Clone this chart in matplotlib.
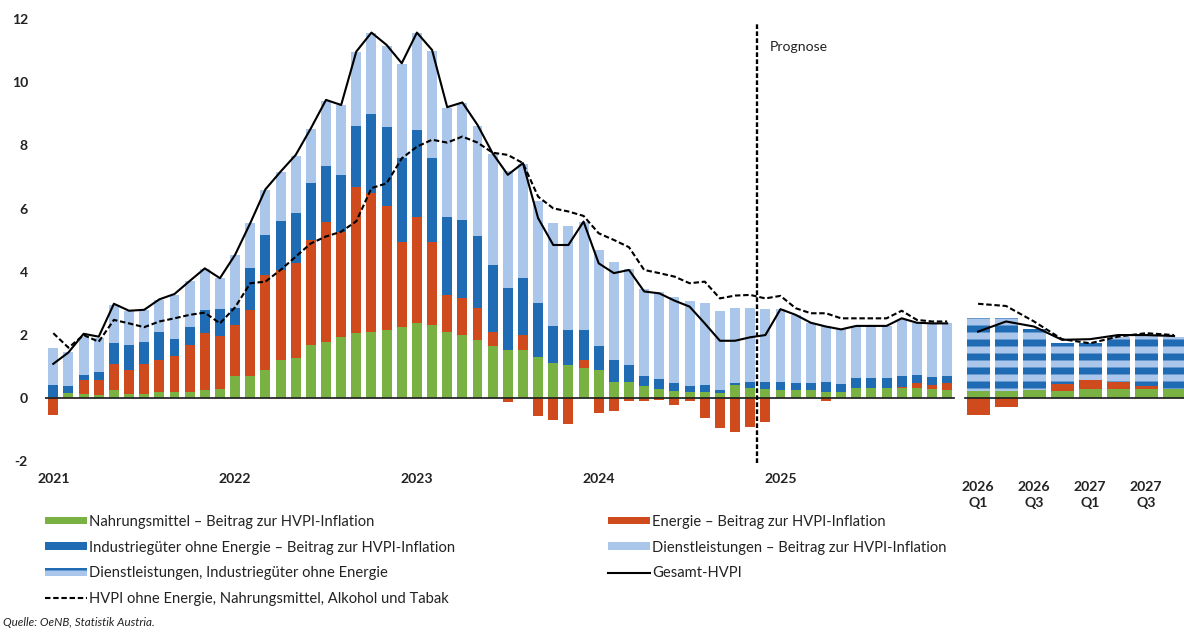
import numpy as np
import matplotlib
matplotlib.use("Agg")
import matplotlib.pyplot as plt
from matplotlib.patches import Patch
from matplotlib.lines import Line2D

# ---------------- data ----------------
year_labels = ['2021', '2022', '2023', '2024', '2025']
quarter_labels = ['2026\nQ1', '2026\nQ3', '2027\nQ1', '2027\nQ3']

# monthly contributions Jan 2021 .. Dec 2025 (percentage points)
food_m = [0.05, 0.16, 0.15, 0.10, 0.26, 0.15, 0.15, 0.20, 0.20, 0.20, 0.25, 0.30,
          0.69, 0.69, 0.90, 1.21, 1.27, 1.69, 1.79, 1.95, 2.06, 2.11, 2.16, 2.27,
          2.37, 2.32, 2.11, 2.00, 1.85, 1.64, 1.53, 1.53, 1.32, 1.11, 1.05, 0.95,
          0.90, 0.53, 0.53, 0.40, 0.30, 0.24, 0.21, 0.21, 0.17, 0.42, 0.32, 0.28,
          0.26, 0.26, 0.26, 0.21, 0.21, 0.32, 0.32, 0.32, 0.32, 0.32, 0.28, 0.26]
energy_m = [-0.53, 0.00, 0.43, 0.48, 0.83, 0.75, 0.94, 1.01, 1.14, 1.49, 1.81, 1.68,
            1.63, 2.11, 3.00, 2.86, 3.00, 3.32, 3.80, 3.32, 4.64, 4.38, 3.91, 2.69,
            3.38, 2.64, 1.16, 1.16, 1.00, 0.47, -0.12, 0.47, -0.56, -0.69, -0.81, 0.26,
            -0.45, -0.40, -0.10, -0.10, -0.05, -0.21, -0.10, -0.63, -0.95, -1.08, -0.90, -0.74,
            0.00, 0.00, 0.00, -0.10, 0.00, 0.00, 0.00, 0.00, 0.05, 0.16, 0.14, 0.21]
ind_m = [0.37, 0.23, 0.16, 0.26, 0.65, 0.79, 0.70, 0.90, 0.53, 0.58, 0.74, 0.84,
         0.55, 1.31, 1.27, 1.55, 1.58, 1.79, 1.76, 1.80, 1.90, 2.51, 2.51, 2.63,
         2.74, 2.63, 2.48, 2.48, 2.27, 2.11, 1.95, 1.80, 1.68, 1.18, 1.11, 0.95,
         0.74, 0.68, 0.52, 0.32, 0.30, 0.23, 0.18, 0.21, 0.10, 0.05, 0.18, 0.25,
         0.27, 0.21, 0.21, 0.29, 0.24, 0.31, 0.31, 0.31, 0.33, 0.26, 0.24, 0.22]
serv_m = [1.16, 1.06, 1.20, 1.06, 1.20, 1.06, 1.00, 1.00, 1.40, 1.43, 1.28, 1.00,
          1.65, 1.42, 1.43, 1.53, 1.83, 1.72, 2.07, 2.20, 2.35, 2.55, 2.58, 3.00,
          3.06, 3.41, 3.45, 3.70, 3.50, 3.50, 3.70, 3.62, 3.25, 3.25, 3.30, 3.43,
          3.05, 3.10, 3.05, 2.75, 2.75, 2.75, 2.70, 2.58, 2.50, 2.40, 2.35, 2.30,
          2.30, 2.15, 1.90, 1.80, 1.75, 1.65, 1.65, 1.65, 1.80, 1.65, 1.70, 1.70]
hicp_m = [1.09, 1.45, 2.04, 1.95, 2.99, 2.77, 2.80, 3.13, 3.30, 3.71, 4.11, 3.80,
          4.54, 5.54, 6.61, 7.17, 7.70, 8.54, 9.44, 9.28, 10.97, 11.57, 11.18, 10.60,
          11.57, 11.02, 9.21, 9.36, 8.65, 7.75, 7.07, 7.44, 5.70, 4.85, 4.85, 5.59,
          4.27, 3.96, 4.06, 3.38, 3.32, 3.09, 2.90, 2.37, 1.82, 1.82, 1.93, 2.00,
          2.82, 2.64, 2.39, 2.27, 2.18, 2.29, 2.29, 2.29, 2.53, 2.39, 2.37, 2.37]
core_m = [2.06, 1.60, 2.00, 1.79, 2.48, 2.37, 2.25, 2.43, 2.53, 2.64, 2.71, 2.37,
          2.88, 3.64, 3.69, 4.06, 4.48, 4.90, 5.12, 5.27, 5.60, 6.65, 6.80, 7.59,
          7.96, 8.18, 8.09, 8.28, 8.09, 7.77, 7.70, 7.44, 6.38, 6.01, 5.91, 5.77,
          5.22, 5.01, 4.78, 4.06, 3.96, 3.85, 3.64, 3.69, 3.16, 3.25, 3.27, 3.16,
          3.24, 2.85, 2.69, 2.69, 2.53, 2.53, 2.53, 2.53, 2.77, 2.48, 2.43, 2.43]

# quarterly forecast 2026 Q1 .. 2027 Q4
food_q = [0.24, 0.24, 0.26, 0.24, 0.28, 0.28, 0.28, 0.28]
energy_q = [-0.53, -0.26, 0.00, 0.21, 0.30, 0.24, 0.10, 0.00]
servind_q = [2.29, 2.29, 1.92, 1.29, 1.17, 1.43, 1.58, 1.67]
hicp_q = [2.11, 2.43, 2.27, 1.85, 1.87, 2.00, 2.00, 1.97]
core_q = [2.99, 2.92, 2.43, 1.87, 1.74, 1.95, 2.06, 2.00]

# ---------------- style ----------------
C_FOOD = '#79b143'
C_EN = '#cf4b1d'
C_IND = '#1f6cb4'
C_SERV = '#aac6eb'

DPI = 84
W, H = 1184, 632
plt.rcParams['font.family'] = ['Lato', 'DejaVu Sans']
plt.rcParams['hatch.linewidth'] = 6.0
plt.rcParams['hatch.color'] = C_IND

fig = plt.figure(figsize=(W / DPI, H / DPI), dpi=DPI)
fig.patch.set_facecolor('white')

PX = 15.15          # pixels per month
X0 = 53.3           # pixel of first bar
left_px, right_px, top_px, bot_px = 45, 1184, 19, 461.5
ax = fig.add_axes([left_px / W, 1 - bot_px / H, (right_px - left_px) / W, (bot_px - top_px) / H])
ax.set_xlim((left_px - X0) / PX, (right_px - X0) / PX)
ax.set_ylim(-2, 12)

def stack(food, energy, ind, serv, x, width, hatch_top=False):
    food = np.asarray(food, float)
    energy = np.asarray(energy, float)
    ind = np.asarray(ind, float) if ind is not None else None
    serv = np.asarray(serv, float)
    pos_e = np.clip(energy, 0, None)
    neg_e = np.clip(energy, None, 0)
    ax.bar(x, food, width, color=C_FOOD, linewidth=0, zorder=2)
    ax.bar(x, pos_e, width, bottom=food, color=C_EN, linewidth=0, zorder=2)
    ax.bar(x, neg_e, width, color=C_EN, linewidth=0, zorder=2)
    base = food + pos_e
    if ind is not None:
        ax.bar(x, ind, width, bottom=base, color=C_IND, linewidth=0, zorder=2)
        base = base + ind
    if hatch_top:
        ax.bar(x, serv, width, bottom=base, facecolor=C_SERV, edgecolor=C_IND,
               hatch='-', linewidth=0, zorder=2)
    else:
        ax.bar(x, serv, width, bottom=base, color=C_SERV, linewidth=0, zorder=2)

xm = np.arange(len(food_m))
xq = 61.04 + 1.848 * np.arange(len(food_q))

stack(food_m, energy_m, ind_m, serv_m, xm, 0.66)
stack(food_q, energy_q, None, servind_q, xq, 1.52, hatch_top=True)

# zero lines
ax.plot([(left_px - X0) / PX, 59.45], [0, 0], color='#222222', lw=1.5, zorder=3)
ax.plot([60.2, (right_px - X0) / PX], [0, 0], color='#222222', lw=1.5, zorder=3)

# lines
ax.plot(xm, hicp_m, color='black', lw=1.8, zorder=4)
ax.plot(xm, core_m, color='black', lw=1.8, ls=(0, (2.6, 1.3)), zorder=4)
ax.plot(xq, hicp_q, color='black', lw=1.8, zorder=4)
ax.plot(xq, core_q, color='black', lw=1.8, ls=(0, (2.6, 1.3)), zorder=4)

# forecast marker
ax.plot([46.45, 46.45], [-2.05, 11.85], color='black', lw=2.0, ls=(0, (2.0, 1.0)),
        zorder=5, clip_on=False)
ax.text(47.3, 11.12, 'Prognose', fontsize=12, va='center', ha='left', color='#222222')

# axes styling
for s in ax.spines.values():
    s.set_visible(False)
ax.set_yticks(np.arange(-2, 13, 2))
ax.set_yticklabels([str(v) for v in range(-2, 13, 2)])
ax.tick_params(axis='y', length=0, pad=14.6, labelsize=12, labelcolor='#222222')
for t in ax.get_yticklabels():
    t.set_fontweight('bold')

ax.set_xticks([0, 12, 24, 36, 48])
ax.set_xticklabels(year_labels)
ax.set_xticks(xq[[0, 2, 4, 6]], minor=True)
ax.set_xticklabels(quarter_labels, minor=True)
ax.tick_params(axis='x', which='major', length=0, pad=9.5, labelsize=12, labelcolor='#222222')
ax.tick_params(axis='x', which='minor', length=0, pad=16.5, labelsize=12, labelcolor='#222222')
for t in ax.get_xticklabels() + ax.get_xticklabels(minor=True):
    t.set_fontweight('bold')
for t in ax.get_xticklabels(minor=True):
    t.set_linespacing(1.45)

# legends
FS = 12.7
fs_px = FS * DPI / 72
h_food = Patch(facecolor=C_FOOD, linewidth=0)
h_en = Patch(facecolor=C_EN, linewidth=0)
h_ind = Patch(facecolor=C_IND, linewidth=0)
h_serv = Patch(facecolor=C_SERV, linewidth=0)
h_si = Patch(facecolor=C_SERV, edgecolor=C_IND, hatch='-', linewidth=0)
h_hicp = Line2D([], [], color='black', lw=1.8)
h_core = Line2D([], [], color='black', lw=1.8, ls=(0, (2.6, 1.3)))

common = dict(frameon=False, fontsize=FS, handlelength=42 / fs_px, handleheight=6 / fs_px,
              handletextpad=2 / fs_px, labelspacing=0.78, borderpad=0, borderaxespad=0,
              loc='upper left')
leg1 = fig.legend([h_food, h_ind, h_si, h_core],
                  ['Nahrungsmittel – Beitrag zur HVPI-Inflation',
                   'Industriegüter ohne Energie – Beitrag zur HVPI-Inflation',
                   'Dienstleistungen, Industriegüter ohne Energie',
                   'HVPI ohne Energie, Nahrungsmittel, Alkohol und Tabak'],
                  bbox_to_anchor=(45 / W, 1 - 515 / H), **common)
leg2 = fig.legend([h_en, h_serv, h_hicp],
                  ['Energie – Beitrag zur HVPI-Inflation',
                   'Dienstleistungen – Beitrag zur HVPI-Inflation',
                   'Gesamt-HVPI'],
                  bbox_to_anchor=(608 / W, 1 - 515 / H), **common)
for leg in (leg1, leg2):
    for t in leg.get_texts():
        t.set_color('#222222')

fig.text(3 / W, 1 - 622 / H, 'Quelle: OeNB, Statistik Austria.', fontsize=10,
         style='italic', va='center', ha='left', color='#222222')

fig.savefig('out.png', dpi=DPI, facecolor='white')
